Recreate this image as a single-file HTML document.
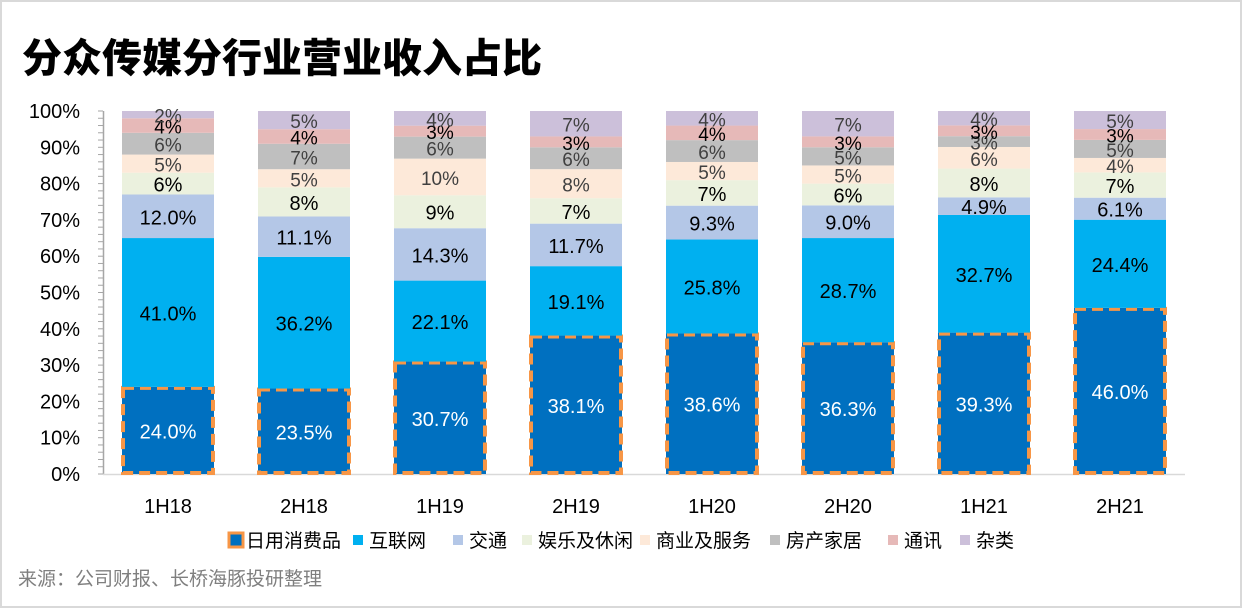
<!DOCTYPE html>
<html><head><meta charset="utf-8"><style>
html,body{margin:0;padding:0;background:#fff;}
#wrap{position:relative;width:1242px;height:608px;overflow:hidden;}
svg text{font-family:"Liberation Sans","Noto Sans CJK SC",sans-serif;}
</style></head><body>
<div id="wrap">
<svg id="chart" width="1242" height="608">
<rect x="1" y="1" width="1240" height="606" fill="#fff" stroke="#d9d9d9" stroke-width="2"/>
<text x="22" y="72" font-size="40" font-weight="900" fill="#000" style="font-family:'Noto Sans CJK SC',sans-serif">分众传媒分行业营业收入占比</text>
<text x="18" y="585" font-size="19" fill="#7f7f7f" style="font-family:'Noto Sans CJK SC',sans-serif">来源：公司财报、长桥海豚投研整理</text>
<g id="axes"></g><g id="bars"></g><g id="legend"></g>
</svg>
</div>
<script>
const categories=["1H18","2H18","1H19","2H19","1H20","2H20","1H21","2H21"];
const seriesNames=["日用消费品","互联网","交通","娱乐及休闲","商业及服务","房产家居","通讯","杂类"];
const consumer=[24.0,23.5,30.7,38.1,38.6,36.3,39.3,46.0];
const internet=[41.0,36.2,22.1,19.1,25.8,28.7,32.7,24.4];
const transport=[12.0,11.1,14.3,11.7,9.3,9.0,4.9,6.1];
const leisure=[6,8,9,7,7,6,8,7];
const business=[5,5,10,8,5,5,6,4];
const realty=[6,7,6,6,6,5,3,5];
const telecom=[4,4,3,3,4,3,3,3];
const misc=[2,5,4,7,4,7,4,5];
const consumerLabels=["24.0%","23.5%","30.7%","38.1%","38.6%","36.3%","39.3%","46.0%"];
const yTicks=[0,10,20,30,40,50,60,70,80,90,100];
const series=[consumer,internet,transport,leisure,business,realty,telecom,misc];
const colors=["#0070C0","#00B0F0","#B4C7E7","#EBF1DE","#FDE9D9","#BFBFBF","#E6B9B8","#CCC0DA"];
const textCols=["#fff","#000","#000","#000","#404040","#404040","#000","#404040"];
const NS="http://www.w3.org/2000/svg";
const y0=474,y100=111,x0=168,step=136,bw=92;
const yS=v=>y0-(y0-y100)*v/100;
const xS=i=>x0+i*step;
function mk(t,a,p){const e=document.createElementNS(NS,t);for(const k in a)e.setAttribute(k,a[k]);p.appendChild(e);return e;}
const axes=document.getElementById('axes');
mk('line',{x1:103.5,y1:y100,x2:103.5,y2:y0,stroke:'#a6a6a6','stroke-width':1.5},axes);
mk('line',{x1:103,y1:y0+0.5,x2:1185,y2:y0+0.5,stroke:'#d9d9d9','stroke-width':1.5},axes);
for(let v=0;v<=100;v+=2){mk('line',{x1:98,x2:103,y1:yS(v),y2:yS(v),stroke:'#a6a6a6','stroke-width':1},axes);}
yTicks.forEach(v=>{const t=mk('text',{x:80,y:yS(v)+7,'text-anchor':'end','font-size':20,fill:'#000'},axes);t.textContent=v+'%';

});
const bars=document.getElementById('bars');
categories.forEach((c,i)=>{
 let tot=0;series.forEach(s=>tot+=s[i]);
 let acc=0;const cx=xS(i);
 series.forEach((s,k)=>{
  const a=acc*100/tot,b=(acc+s[i])*100/tot;acc+=s[i];
  const yt=yS(b),yb=yS(a);
  const r=mk('rect',{x:cx-bw/2,y:yt,width:bw,height:yb-yt,fill:colors[k]},bars);
  
  
  if(k===0){mk('rect',{x:cx-bw/2+1,y:yt+1,width:bw-2,height:yb-yt-2,fill:'none',stroke:'#F79646','stroke-width':4,'stroke-dasharray':'11 6'},bars);}
  const lab=k===0?consumerLabels[i]:(k<3?s[i].toFixed(1)+'%':s[i]+'%');
  const fs=k<4?20:19;
  const t=mk('text',{x:cx,y:(yt+yb)/2+8,'text-anchor':'middle','font-size':fs,fill:textCols[k]},bars);
  t.textContent=lab;
  
  
 });
 const xl=mk('text',{x:cx,y:513,'text-anchor':'middle','font-size':20,fill:'#000'},bars);xl.textContent=c;
 
 
});
const leg=document.getElementById('legend');
const lx=[230,353,453,522,640,770,888,960];
seriesNames.forEach((n,k)=>{
 const g=mk('g',{},leg);
 
 
 if(k===0){mk('rect',{x:lx[k]-1,y:533,width:14,height:14,fill:'#0070C0',stroke:'#F79646','stroke-width':3},g);}
 else mk('rect',{x:lx[k],y:535,width:10,height:10,fill:colors[k]},g);
 const t=mk('text',{x:lx[k]+16,y:547,'font-size':19,fill:'#000'},g);t.setAttribute('style',"font-family:'Noto Sans CJK SC',sans-serif");t.textContent=n;
});
</script>
</body></html>
